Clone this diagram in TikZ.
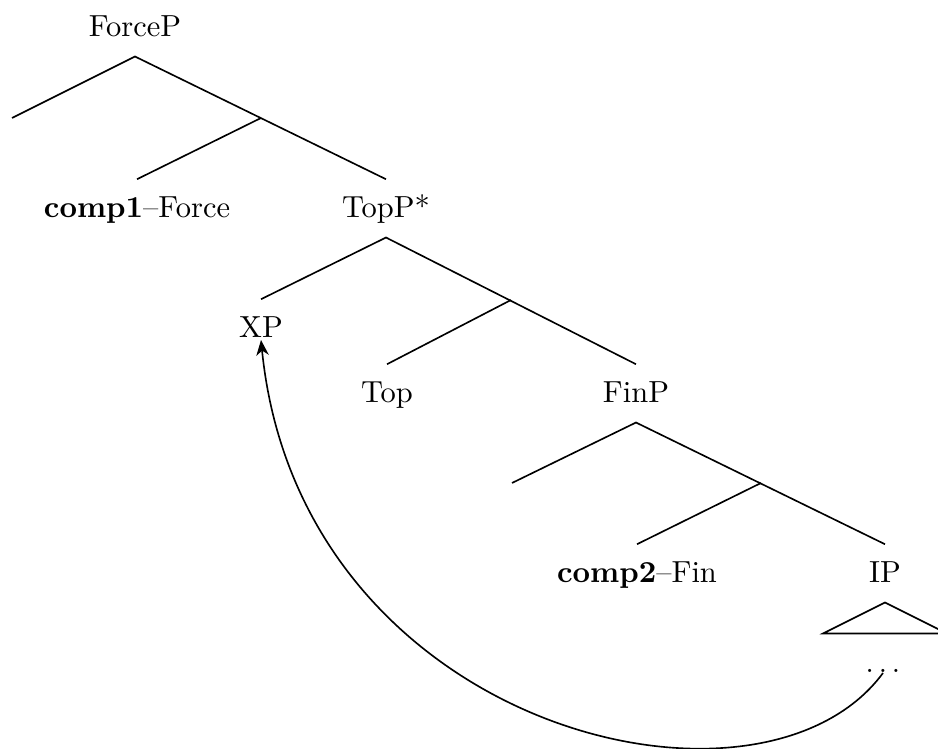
\documentclass[tikz,border=0pt]{standalone}
\usetikzlibrary{calc,arrows.meta}
\begin{document}
\begin{tikzpicture}[x=0.338pt,y=-0.338pt,
  every node/.style={font=\fontsize{10.3}{12.4}\selectfont},
  lab/.style={anchor=base,inner sep=4.4pt,text height=8.5pt,text depth=2pt},
  br/.style={line width=0.55pt},
  mv/.style={line width=0.55pt,-{Stealth[length=5.2pt,width=4.2pt,inset=1.6pt]}}]
\useasboundingbox (0,0) rectangle (938,749);
\clip (0,0) rectangle (938,749);
% nodes
\node[lab] (ForceP) at (135,37) {ForceP};
\coordinate (F1) at (12,118);
\coordinate (F2) at (261,118);
\node[lab] (comp1) at (137,218) {\textbf{comp1}--Force};
\node[lab] (TopP) at (386,218) {TopP*};
\node[lab] (XP) at (261,338) {XP};
\coordinate (T2) at (511,300);
\node[lab] (Top) at (387,403) {Top};
\node[lab] (FinP) at (636,403) {FinP};
\coordinate (N1) at (512,483);
\coordinate (N2) at (761,483);
\node[lab] (comp2) at (637,583) {\textbf{comp2}--Fin};
\node[lab] (IP) at (885,583) {IP};
\node[anchor=base,inner sep=0pt] (dots) at (883,673) {$\ldots$};
% branches
\draw[br] (F1) -- (ForceP.south) -- (TopP.north);
\draw[br] (F2) -- (comp1.north);
\draw[br] (XP.north) -- (TopP.south) -- (FinP.north);
\draw[br] (T2) -- (Top.north);
\draw[br] (N1) -- (FinP.south) -- (IP.north);
\draw[br] (N2) -- (comp2.north);
\draw[br] (IP.south) -- ($(IP.south)+(-62,31)$) -- ($(IP.south)+(62,31)$) -- cycle;
% movement arrow
\draw[mv] (dots.base) .. controls ($(dots.base)+(-123,167)$) and ($(XP.base)+(39,392)$) .. ($(XP.base)+(0,2)$);
\end{tikzpicture}
\end{document}
